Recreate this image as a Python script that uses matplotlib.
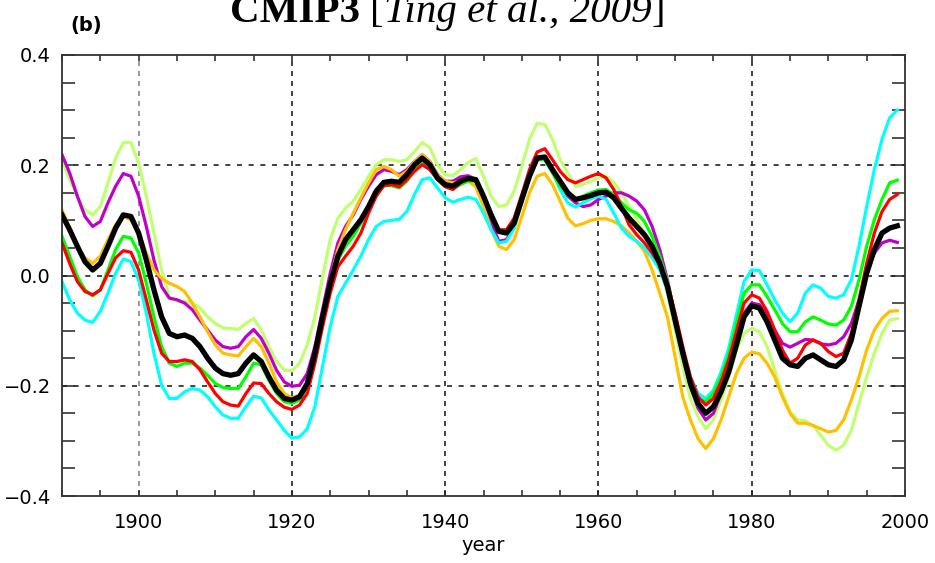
import numpy as np
import matplotlib
matplotlib.use("Agg")
import matplotlib.pyplot as plt
from matplotlib.ticker import MultipleLocator

years = np.arange(1890, 2000)

black = [0.110, 0.083, 0.053, 0.025, 0.010, 0.022, 0.053, 0.086, 0.110, 0.107,
         0.077, 0.028, -0.026, -0.075, -0.105, -0.111, -0.108, -0.114, -0.129, -0.150,
         -0.168, -0.178, -0.181, -0.178, -0.159, -0.144, -0.156, -0.184, -0.208, -0.223,
         -0.226, -0.220, -0.196, -0.141, -0.075, -0.014, 0.035, 0.065, 0.083, 0.101,
         0.125, 0.153, 0.169, 0.171, 0.169, 0.183, 0.201, 0.213, 0.201, 0.177,
         0.165, 0.162, 0.171, 0.176, 0.174, 0.144, 0.110, 0.080, 0.077, 0.095,
         0.138, 0.180, 0.213, 0.215, 0.192, 0.171, 0.150, 0.138, 0.141, 0.145,
         0.150, 0.151, 0.141, 0.122, 0.104, 0.089, 0.074, 0.053, 0.022, -0.020,
         -0.081, -0.141, -0.196, -0.232, -0.250, -0.238, -0.211, -0.175, -0.126, -0.075,
         -0.055, -0.059, -0.084, -0.117, -0.150, -0.162, -0.165, -0.150, -0.144, -0.153,
         -0.162, -0.165, -0.153, -0.117, -0.056, 0.004, 0.047, 0.077, 0.086, 0.090]

magenta = [0.219, 0.186, 0.144, 0.107, 0.089, 0.098, 0.132, 0.162, 0.185, 0.180,
           0.144, 0.089, 0.028, -0.020, -0.041, -0.044, -0.050, -0.062, -0.081, -0.099,
           -0.117, -0.129, -0.132, -0.129, -0.111, -0.098, -0.114, -0.141, -0.172, -0.193,
           -0.201, -0.199, -0.178, -0.129, -0.062, 0.004, 0.059, 0.089, 0.110, 0.138,
           0.162, 0.183, 0.192, 0.189, 0.183, 0.192, 0.207, 0.219, 0.207, 0.183,
           0.171, 0.171, 0.179, 0.181, 0.174, 0.138, 0.095, 0.062, 0.065, 0.089,
           0.135, 0.180, 0.210, 0.212, 0.189, 0.165, 0.144, 0.132, 0.125, 0.128,
           0.138, 0.144, 0.150, 0.150, 0.144, 0.135, 0.119, 0.089, 0.047, -0.008,
           -0.075, -0.141, -0.202, -0.241, -0.262, -0.250, -0.214, -0.172, -0.120, -0.068,
           -0.050, -0.053, -0.072, -0.099, -0.123, -0.130, -0.123, -0.116, -0.117, -0.124,
           -0.126, -0.123, -0.111, -0.087, -0.044, 0.004, 0.041, 0.059, 0.064, 0.060]

lime = [0.210, 0.174, 0.144, 0.119, 0.110, 0.125, 0.168, 0.213, 0.241, 0.241,
        0.204, 0.144, 0.077, 0.010, -0.038, -0.047, -0.047, -0.050, -0.059, -0.075,
        -0.087, -0.095, -0.096, -0.098, -0.087, -0.078, -0.099, -0.129, -0.156, -0.172,
        -0.173, -0.159, -0.126, -0.075, -0.002, 0.065, 0.104, 0.122, 0.135, 0.156,
        0.180, 0.201, 0.210, 0.210, 0.207, 0.210, 0.225, 0.241, 0.232, 0.201,
        0.183, 0.181, 0.192, 0.205, 0.212, 0.180, 0.144, 0.125, 0.128, 0.153,
        0.198, 0.247, 0.276, 0.274, 0.247, 0.210, 0.186, 0.162, 0.165, 0.171,
        0.177, 0.180, 0.169, 0.150, 0.125, 0.101, 0.077, 0.050, 0.016, -0.032,
        -0.099, -0.165, -0.223, -0.256, -0.278, -0.262, -0.226, -0.184, -0.136, -0.105,
        -0.096, -0.102, -0.129, -0.172, -0.214, -0.247, -0.262, -0.264, -0.272, -0.290,
        -0.308, -0.317, -0.308, -0.281, -0.232, -0.184, -0.141, -0.105, -0.081, -0.078]

orange = [0.119, 0.086, 0.053, 0.032, 0.022, 0.035, 0.065, 0.092, 0.107, 0.101,
          0.077, 0.041, 0.010, -0.005, -0.014, -0.020, -0.029, -0.050, -0.075, -0.102,
          -0.126, -0.141, -0.144, -0.146, -0.129, -0.114, -0.129, -0.159, -0.193, -0.214,
          -0.222, -0.217, -0.196, -0.141, -0.075, -0.008, 0.047, 0.083, 0.113, 0.141,
          0.168, 0.192, 0.198, 0.192, 0.180, 0.189, 0.207, 0.219, 0.207, 0.183,
          0.171, 0.168, 0.171, 0.171, 0.161, 0.125, 0.083, 0.053, 0.047, 0.065,
          0.107, 0.150, 0.180, 0.185, 0.165, 0.135, 0.104, 0.090, 0.094, 0.100,
          0.103, 0.103, 0.098, 0.090, 0.077, 0.062, 0.044, 0.010, -0.032, -0.075,
          -0.147, -0.220, -0.262, -0.296, -0.314, -0.296, -0.262, -0.220, -0.178, -0.150,
          -0.139, -0.142, -0.159, -0.184, -0.220, -0.250, -0.268, -0.268, -0.272, -0.278,
          -0.284, -0.281, -0.262, -0.226, -0.184, -0.135, -0.099, -0.078, -0.065, -0.064]

green = [0.071, 0.035, -0.002, -0.026, -0.037, -0.026, 0.010, 0.047, 0.071, 0.068,
         0.041, -0.014, -0.075, -0.129, -0.159, -0.165, -0.159, -0.159, -0.168, -0.181,
         -0.196, -0.203, -0.205, -0.205, -0.184, -0.159, -0.162, -0.190, -0.214, -0.229,
         -0.232, -0.226, -0.202, -0.147, -0.081, -0.020, 0.028, 0.053, 0.071, 0.095,
         0.125, 0.150, 0.163, 0.163, 0.159, 0.171, 0.192, 0.207, 0.195, 0.174,
         0.162, 0.157, 0.165, 0.171, 0.171, 0.144, 0.110, 0.080, 0.080, 0.101,
         0.144, 0.183, 0.210, 0.210, 0.186, 0.162, 0.147, 0.138, 0.144, 0.150,
         0.155, 0.156, 0.147, 0.132, 0.119, 0.113, 0.098, 0.071, 0.035, -0.011,
         -0.072, -0.135, -0.193, -0.223, -0.229, -0.214, -0.184, -0.144, -0.087, -0.032,
         -0.017, -0.017, -0.038, -0.062, -0.087, -0.102, -0.102, -0.084, -0.075, -0.081,
         -0.088, -0.090, -0.081, -0.056, -0.008, 0.053, 0.101, 0.138, 0.168, 0.173]

red = [0.059, 0.022, -0.011, -0.029, -0.035, -0.026, 0.004, 0.032, 0.045, 0.042,
       0.010, -0.044, -0.099, -0.141, -0.156, -0.156, -0.153, -0.156, -0.171, -0.193,
       -0.214, -0.229, -0.235, -0.237, -0.214, -0.195, -0.196, -0.214, -0.229, -0.239,
       -0.243, -0.235, -0.214, -0.159, -0.093, -0.032, 0.016, 0.035, 0.053, 0.077,
       0.113, 0.144, 0.163, 0.165, 0.161, 0.174, 0.189, 0.201, 0.192, 0.174,
       0.161, 0.156, 0.168, 0.177, 0.174, 0.144, 0.110, 0.083, 0.083, 0.104,
       0.147, 0.192, 0.224, 0.230, 0.210, 0.189, 0.174, 0.168, 0.174, 0.180,
       0.185, 0.177, 0.156, 0.125, 0.092, 0.074, 0.059, 0.041, 0.019, -0.014,
       -0.068, -0.129, -0.184, -0.220, -0.235, -0.223, -0.193, -0.153, -0.102, -0.050,
       -0.035, -0.041, -0.065, -0.099, -0.135, -0.159, -0.150, -0.126, -0.117, -0.123,
       -0.138, -0.147, -0.141, -0.105, -0.044, 0.022, 0.077, 0.116, 0.138, 0.147]

cyan = [-0.011, -0.044, -0.068, -0.081, -0.085, -0.065, -0.032, 0.004, 0.030, 0.025,
        -0.008, -0.068, -0.141, -0.199, -0.223, -0.223, -0.211, -0.205, -0.208, -0.220,
        -0.238, -0.253, -0.259, -0.259, -0.238, -0.219, -0.222, -0.244, -0.262, -0.281,
        -0.295, -0.293, -0.278, -0.238, -0.165, -0.093, -0.038, -0.014, 0.010, 0.035,
        0.065, 0.089, 0.098, 0.100, 0.102, 0.116, 0.147, 0.174, 0.177, 0.159,
        0.141, 0.133, 0.138, 0.142, 0.138, 0.113, 0.083, 0.059, 0.062, 0.086,
        0.132, 0.180, 0.213, 0.216, 0.189, 0.156, 0.132, 0.124, 0.132, 0.139,
        0.144, 0.138, 0.113, 0.086, 0.071, 0.062, 0.050, 0.032, 0.010, -0.026,
        -0.081, -0.135, -0.184, -0.214, -0.223, -0.208, -0.175, -0.132, -0.072, -0.011,
        0.010, 0.009, -0.017, -0.044, -0.068, -0.084, -0.068, -0.032, -0.017, -0.023,
        -0.038, -0.041, -0.035, -0.008, 0.053, 0.125, 0.192, 0.247, 0.286, 0.300]

fig = plt.figure(figsize=(9.35, 5.63), dpi=100)
ax = fig.add_axes([62/935, 67/563, 843/935, 441/563])

# grid first so the curves sit on top
for x in [1900, 1920, 1940, 1960, 1980]:
    c = "#888888" if x == 1900 else "#222222"
    ax.axvline(x, color=c, lw=1.2, dashes=(3, 3), zorder=1)
for y in [0.2, 0.0, -0.2]:
    ax.axhline(y, color="#222222", lw=1.2, dashes=(3, 4), zorder=1)

lw = 2.3
ax.plot(years, lime, color="#c0ff70", lw=lw, zorder=2)
ax.plot(years, magenta, color="#c000c8", lw=lw, zorder=2)
ax.plot(years, orange, color="#ffc000", lw=lw, zorder=2)
ax.plot(years, cyan, color="#00ffff", lw=lw, zorder=2)
ax.plot(years, green, color="#00ff00", lw=lw, zorder=2)
ax.plot(years, red, color="#ff0000", lw=lw, zorder=2)
ax.plot(years, black, color="black", lw=3.8, zorder=3)

ax.set_xlim(1890, 2000)
ax.set_ylim(-0.4, 0.4)
ax.xaxis.set_major_locator(MultipleLocator(20))
ax.xaxis.set_minor_locator(MultipleLocator(5))
ax.yaxis.set_major_locator(MultipleLocator(0.2))
ax.yaxis.set_minor_locator(MultipleLocator(0.05))
ax.tick_params(axis="x", which="both", direction="in", top=True, length=4.5,
               width=1.1, color="#222222", pad=12)
ax.tick_params(axis="y", which="both", direction="in", right=True, length=9.5,
               width=1.1, color="#222222", pad=8)
ax.set_yticks([-0.4, -0.2, 0.0, 0.2, 0.4])
ax.set_yticklabels(["\u22120.4", "\u22120.2", "0.0", "0.2", "0.4"])
ax.set_xticks([1900, 1920, 1940, 1960, 1980, 2000])
for lab in ax.get_xticklabels() + ax.get_yticklabels():
    lab.set_fontsize(14)
for s in ax.spines.values():
    s.set_linewidth(1.3)
    s.set_color("#333333")
ax.set_xlabel("year", fontsize=14, labelpad=3)

fig.text(70/935, 1 - 31/563, "(b)", fontsize=14, fontweight="bold", va="baseline")

# title in pieces: bold / plain bracket / italic / plain bracket
fig.canvas.draw()
r = fig.canvas.get_renderer()
xpos = 230/935
ybase = 1 - 22/563
pieces = [("CMIP3 ", dict(fontweight="bold")),
          ("[", dict()),
          ("Ting et al., 2009", dict(style="italic")),
          ("]", dict())]
for txt, kw in pieces:
    t = fig.text(xpos, ybase, txt, fontsize=29.5, family="Liberation Serif",
                 va="baseline", ha="left", **kw)
    bb = t.get_window_extent(renderer=r)
    xpos += bb.width / fig.bbox.width

fig.savefig("out.png", dpi=100)
